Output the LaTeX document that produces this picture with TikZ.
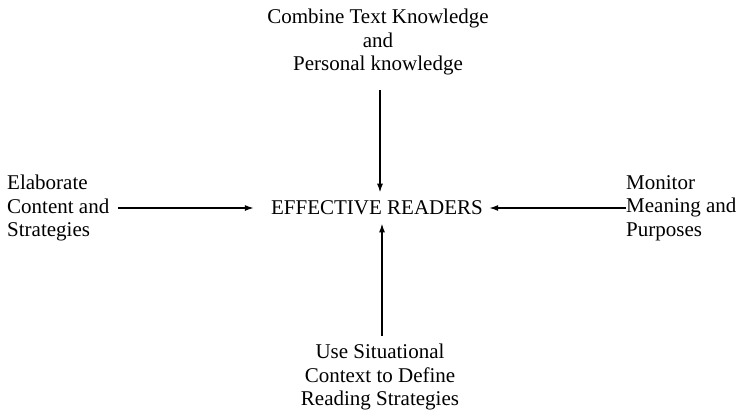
\documentclass[tikz,border=0pt]{standalone}
\usepackage{fontspec}
\setmainfont{Liberation Serif}
\usetikzlibrary{arrows.meta}
\begin{document}
\begin{tikzpicture}[x=1pt,y=-1pt,font=\fontsize{21}{23.5}\selectfont,
    box/.style={inner sep=0pt},
    link/.style={line width=1.6pt,-{Latex[length=9pt,width=6pt]}}]
    \useasboundingbox (0,0) rectangle (741,415);
    \node[box] (readers) at (377,208) {EFFECTIVE READERS};
    \node[box,align=center] (combine) at (378,42) {Combine Text Knowledge\\and\\Personal knowledge};
    \node[box,align=center] (situ) at (380,377) {Use Situational\\Context to Define\\Reading Strategies};
    \node[box,align=left,anchor=west] (elab) at (7,208) {Elaborate\\Content and\\Strategies};
    \node[box,align=left,anchor=west] (monitor) at (626,208) {Monitor\\Meaning and\\Purposes};
    \coordinate (t1) at (380,90);
    \coordinate (b1) at (382,336);
    \draw[link] (t1) -- ([yshift=8pt]t1 |- readers.north);
    \draw[link] (b1) -- ([yshift=-8pt]b1 |- readers.south);
    \draw[link] ([xshift=9pt]elab.east) -- ([xshift=-17pt]readers.west);
    \draw[link] (monitor.west) -- ([xshift=6pt]readers.east);
\end{tikzpicture}
\end{document}
